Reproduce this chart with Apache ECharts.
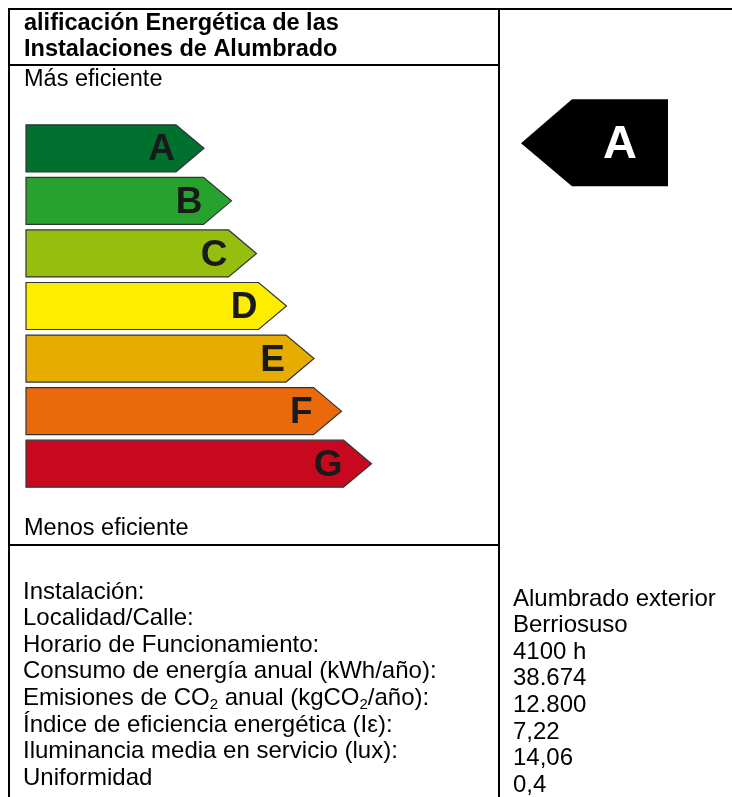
<!DOCTYPE html>
<html><head><meta charset="utf-8">
<script src="https://cdn.jsdelivr.net/npm/echarts@6/dist/echarts.min.js"></script>
<style>html,body{margin:0;padding:0;background:#fff}#c{width:732px;height:797px}</style>
</head><body><div id="c"></div>
<script>
// ---- data ----
const titleLines = ['alificación Energética de las', 'Instalaciones de Alumbrado'];
const topLabel = 'Más eficiente';
const bottomLabel = 'Menos eficiente';
const classes = ['A', 'B', 'C', 'D', 'E', 'F', 'G'];
const classLength = [6.0, 7.1, 8.1, 9.3, 10.4, 11.5, 12.7];
const classColors = ['#00702F', '#27A22F', '#95BE0E', '#FFED00', '#E6AC00', '#EA690B', '#C8081E'];
const rating = 'A';
const fieldLabels = [
  'Instalación:',
  'Localidad/Calle:',
  'Horario de Funcionamiento:',
  'Consumo de energía anual (kWh/año):',
  'Emisiones de CO{s|2} anual (kgCO{s|2}/año):',
  'Índice de eficiencia energética (Iε):',
  'Iluminancia media en servicio (lux):',
  'Uniformidad'
];
const fieldValues = [
  'Alumbrado exterior',
  'Berriosuso',
  '4100 h',
  '38.674',
  '12.800',
  '7,22',
  '14,06',
  '0,4'
];

// ---- layout / style ----
const FONT = '"Liberation Sans", Arial, sans-serif';
const FS = 23.5;
const FS2 = 24;
const ROW = 26.6;
const chart = echarts.init(document.getElementById('c'), null, {renderer: 'canvas'});

const lineStyle = {stroke: '#000', lineWidth: 2};
const graphics = [
  {type: 'line', shape: {x1: 8, y1: 9, x2: 732, y2: 9}, style: lineStyle},
  {type: 'line', shape: {x1: 9, y1: 8, x2: 9, y2: 797}, style: lineStyle},
  {type: 'line', shape: {x1: 8, y1: 65, x2: 499, y2: 65}, style: lineStyle},
  {type: 'line', shape: {x1: 8, y1: 545, x2: 499, y2: 545}, style: lineStyle},
  {type: 'line', shape: {x1: 499, y1: 8, x2: 499, y2: 797}, style: lineStyle}
];
titleLines.forEach((t, k) => graphics.push({
  type: 'text', x: 24, y: 24 + k * 25.5,
  style: {text: t, font: 'bold ' + FS + 'px ' + FONT, fill: '#000', verticalAlign: 'middle'}
}));
graphics.push({type: 'text', x: 24, y: 80, style: {text: topLabel, font: FS + 'px ' + FONT, fill: '#000', verticalAlign: 'middle'}});
graphics.push({type: 'text', x: 24, y: 529, style: {text: bottomLabel, font: FS + 'px ' + FONT, fill: '#000', verticalAlign: 'middle'}});
fieldLabels.forEach((t, k) => graphics.push({
  type: 'text', x: 23, y: 592 + k * ROW,
  style: {
    text: t, fill: '#000', fontSize: FS2, fontFamily: FONT, verticalAlign: 'middle', lineHeight: 27,
    rich: {s: {fontSize: 15, fontFamily: FONT, lineHeight: 12, verticalAlign: 'bottom', fill: '#000'}}
  }
}));
fieldValues.forEach((t, k) => graphics.push({
  type: 'text', x: 513, y: 599 + k * ROW,
  style: {text: t, font: FS2 + 'px ' + FONT, fill: '#000', verticalAlign: 'middle'}
}));

const BAR_H = 47, HEAD = 28;
chart.setOption({
  animation: false,
  backgroundColor: '#fff',
  grid: {left: 26, right: 6, top: 122, height: 368},
  xAxis: {type: 'value', min: 0, max: 28, show: false},
  yAxis: {type: 'category', data: classes, inverse: true, show: false},
  graphic: graphics,
  series: [
    {
      type: 'custom',
      data: classes.map((c, i) => [i, classLength[i]]),
      encode: {x: 1, y: 0},
      renderItem: function (params, api) {
        const i = api.value(0);
        const s = api.coord([0, i]);
        const e = api.coord([api.value(1), i]);
        const y0 = s[1] - BAR_H / 2, y1 = s[1] + BAR_H / 2;
        return {
          type: 'group',
          children: [
            {type: 'polygon', shape: {points: [[s[0], y0], [e[0], y0], [e[0] + HEAD, s[1]], [e[0], y1], [s[0], y1]]},
              style: {fill: classColors[i], stroke: '#333', lineWidth: 1.2}},
            {type: 'text', x: e[0] - 1, y: s[1] + 2,
              style: {text: classes[i], font: 'bold 37px ' + FONT, fill: '#1a1a1a', align: 'right', verticalAlign: 'middle'}}
          ]
        };
      }
    },
    {
      type: 'custom',
      data: [[classes.indexOf(rating), 0]],
      encode: {x: 1, y: 0},
      renderItem: function (params, api) {
        const c = api.coord([0, api.value(0)]);
        const cy = c[1] - 5;
        return {
          type: 'group',
          children: [
            {type: 'polygon', shape: {points: [[521, cy], [572, cy - 44], [668, cy - 44], [668, cy + 43], [572, cy + 43]]},
              style: {fill: '#000'}},
            {type: 'text', x: 620, y: cy + 2,
              style: {text: rating, font: 'bold 47px ' + FONT, fill: '#fff', align: 'center', verticalAlign: 'middle'}}
          ]
        };
      }
    }
  ]
});
</script>
</body></html>
